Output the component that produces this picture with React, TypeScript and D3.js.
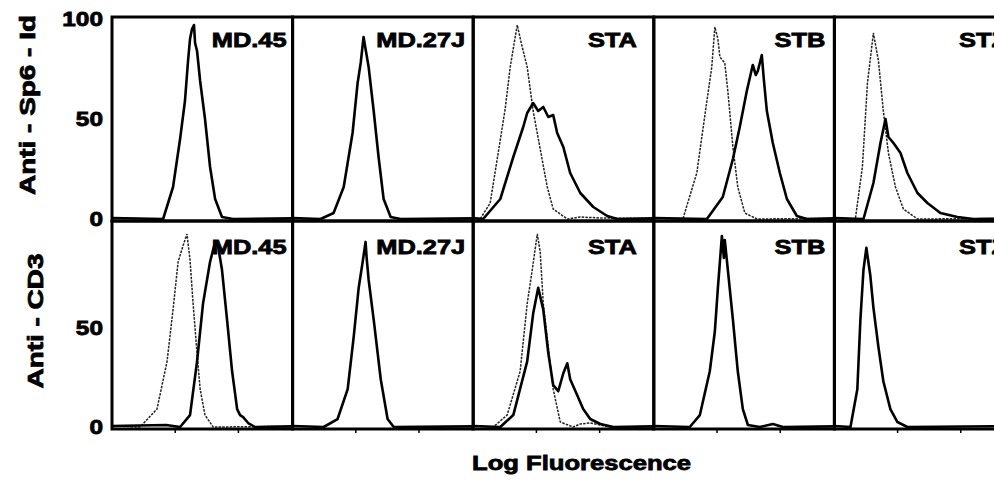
import React from 'react';
import * as d3 from 'd3';

// fluorescence channel (0-1000, log scale) vs relative cell number
const samples = ['MD.45', 'MD.27J', 'STA', 'STB', 'STZ'];
const rowLabels = ['Anti - Sp6 - Id', 'Anti - CD3'];
const yTicks = [0, 50, 100];
const bottomYTicks = [0, 50];

// top row: anti-Sp6-Id
const sp6Control = [
  null,
  null,
  [[0, 0.5], [39, 0], [94, 8], [133, 30], [177, 55], [205, 76], [227, 88], [244, 97], [266, 88], [299, 76], [332, 54], [371, 35], [410, 16], [443, 5], [521, 0], [593, 1], [704, 0.5], [1000, 0.3]],
  [[0, 0.5], [161, 0], [238, 23], [294, 59], [321, 76], [338, 96], [355, 90], [366, 81], [393, 78], [410, 64], [438, 36], [465, 16], [504, 3], [571, 0], [1000, 0.3]],
  [[0, 0.5], [116, 0], [155, 26], [183, 68], [216, 93], [244, 79], [271, 54], [299, 33], [338, 16], [382, 5], [460, 0], [1000, 0.3]],
];
const sp6Stain = [
  [[0, 0.5], [283, 0], [338, 16], [377, 40], [404, 59], [421, 79], [432, 90], [443, 95], [454, 97], [460, 88], [471, 84], [488, 69], [515, 50], [543, 26], [571, 10], [609, 1], [670, 0], [1000, 0.3]],
  [[0, 0.5], [155, 0], [227, 3], [283, 16], [332, 43], [360, 68], [377, 78], [393, 91], [404, 85], [421, 76], [449, 54], [476, 31], [504, 10], [543, 1], [598, 0], [1000, 0.3]],
  [[0, 0.5], [55, 0], [150, 10], [222, 31], [277, 46], [299, 53], [332, 58], [360, 54], [388, 56], [416, 51], [443, 52], [465, 43], [499, 36], [537, 23], [593, 13], [665, 6], [742, 1.5], [798, 0], [1000, 0.3]],
  [[0, 0.5], [294, 0], [382, 11], [438, 30], [476, 46], [515, 64], [548, 77], [565, 72], [576, 74], [598, 82], [609, 70], [626, 54], [659, 38], [698, 23], [737, 10], [792, 1.5], [848, 0], [1000, 0.3]],
  [[0, 0.5], [161, 0], [216, 18], [255, 38], [283, 50], [299, 41], [327, 38], [366, 33], [404, 23], [460, 13], [515, 8], [587, 3], [681, 1], [770, 0], [1000, 0.3]],
];

// bottom row: anti-CD3
const cd3Control = [
  [[0, 0.5], [155, 0], [249, 9], [305, 33], [338, 59], [366, 83], [393, 91], [415, 97], [432, 84], [449, 62], [471, 37], [488, 19], [515, 6], [560, 0], [1000, 0.3]],
  null,
  [[0, 0.5], [111, 0], [188, 6], [260, 28], [299, 62], [327, 79], [355, 97], [371, 88], [388, 62], [416, 40], [443, 19], [482, 2.5], [554, 0], [593, 1.5], [648, 2], [704, 1], [759, 0], [1000, 0.3]],
  null,
  null,
];
const cd3Stain = [
  [[0, 0.5], [300, 1], [377, 0], [432, 6], [471, 33], [504, 62], [543, 83], [571, 93], [587, 91], [609, 79], [637, 54], [665, 28], [693, 9], [709, 6], [726, 5], [754, 2], [792, 0], [1000, 0.3]],
  [[0, 0.5], [172, 0], [249, 4], [305, 19], [338, 45], [366, 70], [388, 83], [404, 93], [410, 85], [421, 74], [449, 54], [488, 24], [526, 4], [560, 0], [1000, 0.3]],
  [[0, 0.5], [150, 0], [222, 6], [299, 33], [332, 57], [360, 70], [388, 59], [416, 37], [443, 21], [471, 18], [499, 27], [521, 32], [537, 24], [576, 16], [609, 9], [648, 4], [704, 1.5], [776, 0], [1000, 0.3]],
  [[0, 0.5], [199, 0], [255, 6], [310, 28], [338, 48], [355, 70], [377, 96], [388, 85], [393, 94], [410, 79], [438, 54], [465, 28], [493, 9], [521, 1], [587, 0], [659, 1.5], [715, 0], [1000, 0.3]],
  [[0, 0.5], [89, 0], [127, 19], [144, 54], [161, 79], [177, 90], [199, 76], [216, 60], [244, 40], [271, 23], [310, 9], [349, 2.5], [404, 0], [1000, 0.5]],
];

const W = 994;
const H = 482;
const left = 112;
const panelW = 180.6;
const rows = [
  { top: 17, bottom: 221, y0: 219, y100: 19, labelY: 47, titleX: 35, titleY: 105 },
  { top: 221, bottom: 429, y0: 427, y100: 228, labelY: 254, titleX: 43, titleY: 321 },
];
const labelInset = [6, 8, 17, 9, 8];
const font = '"Liberation Sans", Arial, Helvetica, sans-serif';
// heavy, slightly blurred print look
const heavy = { fontFamily: font, fontWeight: 'bold' as const, stroke: '#000', strokeWidth: 0.8 };

const App = () => {
  const x = d3.scaleLinear().domain([0, 1000]).range([0, panelW]);
  const series = [
    { control: sp6Control, stain: sp6Stain, ticks: yTicks },
    { control: cd3Control, stain: cd3Stain, ticks: bottomYTicks },
  ];

  return (
    <svg width={W} height={H} style={{ position: 'absolute', left: 0, top: 0, background: '#fff' }}>
      {rows.map((r, ri) => {
        const y = d3.scaleLinear().domain([0, 100]).range([r.y0, r.y100]);
        const line = d3.line<number[]>().x((d) => x(d[0])).y((d) => y(d[1]));
        const s = series[ri];
        return (
          <g key={ri}>
            {samples.map((name, ci) => {
              const px = left + ci * panelW;
              const ctrl = s.control[ci];
              return (
                <g key={name} transform={`translate(${px},0)`}>
                  {ctrl && (
                    <path d={line(ctrl) || ''} fill="none" stroke="#222" strokeWidth={1.5} strokeDasharray="2.5,1.2" />
                  )}
                  <path d={line(s.stain[ci]) || ''} fill="none" stroke="#000" strokeWidth={2.6} strokeLinejoin="round" />
                  <rect x={0} y={r.top} width={panelW} height={r.bottom - r.top} fill="none" stroke="#000" strokeWidth={3} />
                  <text
                    transform={`translate(${panelW - labelInset[ci]},${r.labelY}) scale(1.27,1)`}
                    textAnchor="end"
                    fontSize={20}
                    {...heavy}
                  >
                    {name}
                  </text>
                  {ri === 1 &&
                    [350, 700].map((c) => (
                      <line key={c} x1={x(c)} x2={x(c)} y1={r.bottom} y2={r.bottom + 4} stroke="#000" strokeWidth={1.5} />
                    ))}
                </g>
              );
            })}
            {s.ticks.map((t) => (
              <text
                key={t}
                transform={`translate(103,${y(t) + 7}) scale(1.22,1)`}
                textAnchor="end"
                fontSize={20}
                {...heavy}
              >
                {t}
              </text>
            ))}
            <text
              transform={`translate(${r.titleX},${r.titleY}) rotate(-90) scale(1.27,1)`}
              textAnchor="middle"
              fontSize={22}
              {...heavy}
            >
              {rowLabels[ri]}
            </text>
          </g>
        );
      })}
      <text transform="translate(472,470) scale(1.22,1)" fontSize={21} {...heavy}>
        Log Fluorescence
      </text>
    </svg>
  );
};

export default App;
